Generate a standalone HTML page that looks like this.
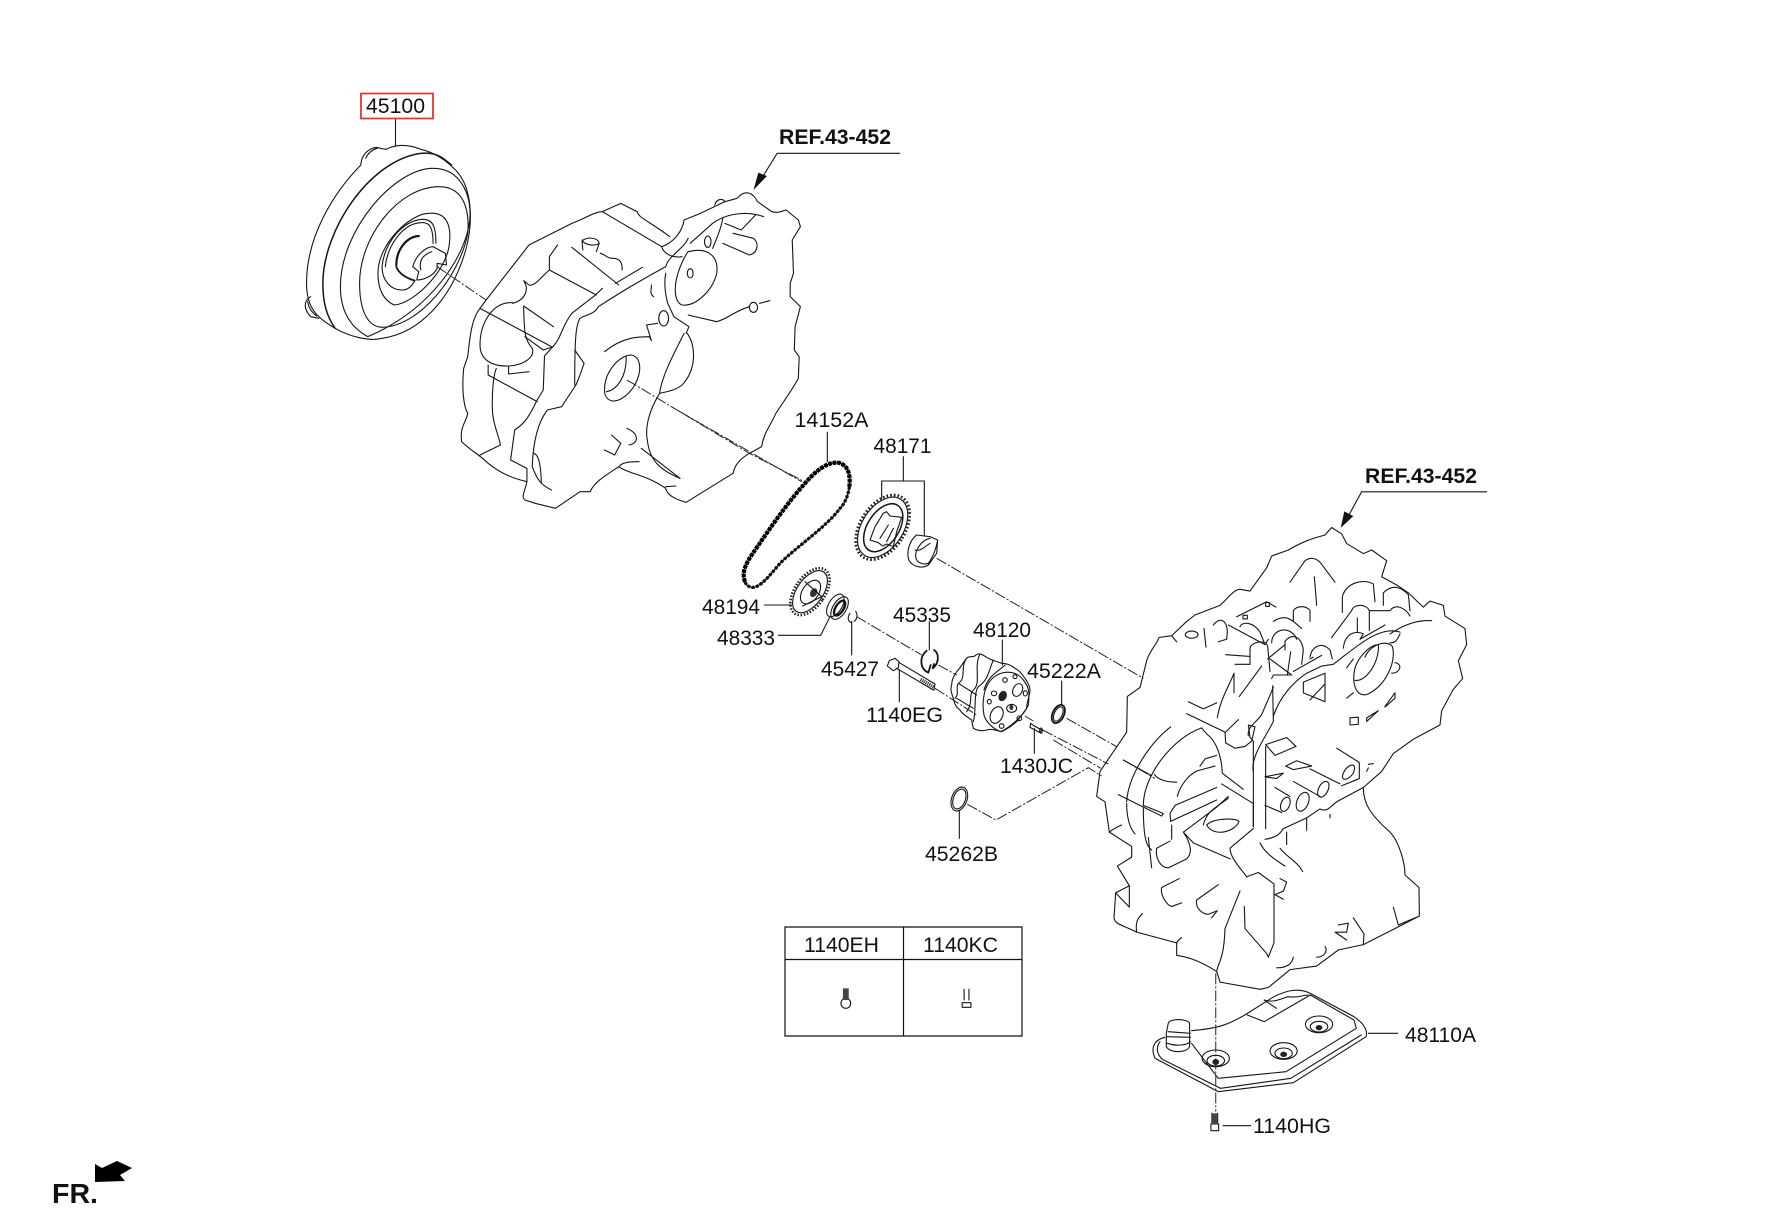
<!DOCTYPE html>
<html><head><meta charset="utf-8"><style>
html,body{margin:0;padding:0;background:#fff;width:1772px;height:1211px;overflow:hidden}
svg{display:block}
path,line,ellipse,polyline,rect{vector-effect:non-scaling-stroke}
.l{fill:none;stroke:#161616;stroke-width:1.1;stroke-linejoin:round;stroke-linecap:round}
.d{fill:none;stroke:#222;stroke-width:1;stroke-dasharray:11 2 2 2}
text{font-family:"Liberation Sans",sans-serif;font-size:21px;fill:#111}
.b{font-weight:bold}
</style></head><body>
<svg width="1772" height="1211" viewBox="0 0 1772 1211" xmlns="http://www.w3.org/2000/svg">
<rect width="1772" height="1211" fill="#fff"/>

<!-- left: converter + housing, crop 1 coordinates -->
<g transform="translate(280,70) scale(0.40816,0.33333)">
<g class="l">
<path d="M198,285C130,370 65,500 65,640C65,720 95,745 135,775C170,800 220,815 250,805C340,790 420,690 455,540C475,450 470,350 430,300C400,262 370,245 345,238C310,220 280,225 260,238"/>
<path d="M105,640C105,480 220,270 345,250C385,245 400,265 420,285M105,640C105,700 115,740 135,775" style="stroke-width:1.5"/>
<path d="M148,650C148,480 280,295 375,295C440,295 470,370 465,450C455,560 370,720 215,800C170,770 148,720 148,650"/>
<path d="M195,640C195,500 290,350 390,350C450,350 465,420 460,490C440,620 340,770 250,772C210,770 195,710 195,640"/>
<path d="M240,610C240,520 320,430 365,430C410,425 420,470 415,520C410,600 330,700 280,705C250,690 240,650 240,610"/>
<path d="M250,590C255,520 300,450 350,448C375,448 382,470 382,520M258,590C262,530 300,460 345,458C370,455 375,480 375,520M250,590C250,630 270,660 300,660C315,660 325,645 330,632"/>
<path d="M285,585C285,540 310,500 340,498" style="stroke-width:2.2"/>
<path d="M285,590C290,610 310,625 330,632" style="stroke-width:1.8"/>
<path d="M325,590C335,550 360,530 375,530L405,550L408,585L385,580L385,595C375,620 350,630 335,630L340,605L325,590M345,600C340,570 350,555 372,545"/>
<path d="M198,285C200,245 230,225 245,235L260,238M210,265C215,250 225,240 238,235M75,680C55,695 60,720 75,740L95,745M68,695C70,715 80,730 90,738"/>

<path d="M790,425C770,425 750,445 715,460L610,525L505,690L490,715C470,745 465,800 460,860L450,895C445,960 450,1010 460,1030C455,1060 440,1070 445,1115C465,1140 490,1155 510,1180C540,1210 570,1225 605,1235C600,1265 590,1280 600,1290L625,1300L675,1315L735,1265L760,1265C770,1235 800,1215 830,1190C850,1210 900,1215 945,1255C950,1280 975,1290 995,1297L1110,1210C1115,1180 1130,1165 1150,1150L1180,1130C1185,1090 1200,1070 1215,1030C1230,1000 1250,970 1270,925L1272,860L1260,840L1262,770L1275,710L1250,680L1250,640L1258,610L1255,510L1275,470L1270,450L1240,420C1225,425 1220,430 1205,425L1170,395C1160,370 1140,355 1120,385L1090,395L1030,430L990,450C985,490 960,520 935,530C940,550 960,565 985,560"/>
<path d="M790,425L835,400L875,425C880,445 900,450 955,500M790,425L935,530"/>
<path d="M1065,405C1070,385 1085,385 1090,395M1000,505C990,535 950,560 945,590"/>
<path d="M1185,440C1150,425 1100,425 1060,460L1005,520"/>
<path d="M740,515C745,500 780,500 782,520L775,545M740,510C745,525 770,530 782,520M740,515L742,540M715,532L830,645M785,550C800,555 800,565 815,565C830,565 840,575 838,600M888,592L822,640"/>
<path d="M680,525L660,560L660,600L775,675M660,600C640,620 625,650 610,645L597,632C612,660 600,690 570,700"/>
<path d="M570,698C520,695 490,760 490,825C490,870 520,890 560,888C600,885 625,860 618,835C600,810 598,790 597,708M597,708L670,770"/>
<path d="M490,715L665,830M600,800L645,840L670,830"/>
<path d="M790,655L770,678L715,730C690,770 690,800 672,825L648,858L645,960L630,990C610,1040 600,1060 575,1080L565,1170L605,1195L605,1235"/>
<path d="M510,885L510,915L630,995M530,895C525,910 520,940 520,1010C520,1060 535,1090 540,1125L490,1155M560,890L560,912L610,905"/>
<path d="M945,590C900,620 830,670 780,710C770,735 745,735 735,745C725,765 722,800 722,945M722,840L745,880L735,915L725,945L690,1010L655,1020C630,1060 620,1120 618,1190C630,1230 640,1245 665,1260M620,1150C640,1150 640,1230 640,1240"/>
<path d="M795,960C795,900 835,855 860,855C885,860 885,900 875,930C860,975 830,995 815,993C800,990 795,975 795,960M848,860C850,920 825,960 800,965"/>
<path d="M990,790C965,850 935,920 930,970C900,1030 895,1080 900,1110C905,1170 930,1200 980,1225M998,790C1020,830 1020,900 985,945C970,960 950,965 930,970"/>
<path d="M795,845C840,800 880,800 905,800L910,812L898,765L925,760M945,610C940,640 945,680 950,700L965,740L1002,770L995,790"/>
<ellipse cx="940" cy="745" rx="12" ry="23"/>
<path d="M1000,545C1050,530 1075,560 1070,610C1060,660 1020,710 985,705C965,695 965,650 975,610C980,590 990,560 1000,545M1085,445C1080,480 1065,520 1060,535"/>
<ellipse cx="1048" cy="515" rx="8" ry="17"/><ellipse cx="1005" cy="610" rx="7" ry="14"/>
<path d="M1090,460L1130,480L1165,435M1085,520L1150,555C1170,550 1175,520 1160,505L1110,490M1000,735L1070,755C1100,745 1110,725 1150,710M1175,700L1200,692"/>
<ellipse cx="1160" cy="712" rx="10" ry="15"/>
<path d="M795,1140L820,1155L835,1120L812,1095M850,1075C880,1090 880,1120 855,1125M885,1135L980,1225M830,1190C840,1175 860,1175 880,1175M945,1250L970,1248M910,645C910,660 905,670 915,680"/>
<line x1="283" y1="147" x2="283" y2="228"/>
<line x1="1220" y1="250" x2="1518" y2="250"/>
<path d="M1218,250L1180,325"/>
</g>
<path d="M1160,360L1172,308L1193,318Z" fill="#111"/>
<path class="d" d="M385,590L505,690"/>
<path class="d" d="M850,930L1150,1150L1285,1235"/>
</g>

<!-- middle parts, crop 2 coordinates -->
<g transform="translate(680,400) scale(0.33333)">
<g class="l">
<path d="M442,97V185M670,170V243M605,243H733M605,243V295M733,243V405M253,615H335M295,706H422L450,650M515,665V765M748,665V750M967,720V795M1145,843V915M658,810V905M1063,985V1060M838,1232V1315"/>
</g>
<!-- chain -->
<path d="M195,545C185,520 195,495 215,465C260,400 320,310 375,250C405,215 440,185 475,188C505,195 512,225 508,260C505,285 495,310 480,325C440,380 350,440 300,490C270,525 240,565 215,562C205,560 198,555 195,545Z" fill="none" stroke="#111" stroke-width="1.3"/>
<path d="M195,545C185,520 195,495 215,465C260,400 320,310 375,250C405,215 440,185 475,188C505,195 512,225 508,260" fill="none" stroke="#000" stroke-width="4.2" stroke-dasharray="3.6 .9"/>
<path d="M508,260C505,285 495,310 480,325C440,380 350,440 300,490C270,525 240,565 215,562C205,560 198,555 195,545" fill="none" stroke="#111" stroke-width="3.2" stroke-dasharray="3 1.4"/>
<!-- sprocket 48171 -->
<g transform="rotate(33 608 382)">
<ellipse cx="608" cy="382" rx="67" ry="107" fill="none" stroke="#222" stroke-width="2.8" stroke-dasharray="1.7 2"/>
<ellipse class="l" cx="608" cy="382" rx="62" ry="100"/>
<ellipse class="l" cx="610" cy="382" rx="47" ry="80" style="stroke-width:1.5"/>
</g>
<path class="l" d="M610,340L620,335L630,348L665,352L650,395L640,440L620,432L608,438L595,428L570,420L585,380ZM625,375L600,415M640,385L620,425"/>
<path class="l" d="M710,405C690,420 680,450 685,475C690,495 720,510 745,495L770,460L773,420L750,410L710,405M750,415C725,420 705,450 707,470C710,490 730,495 745,490C760,470 770,440 773,420M705,450C720,455 735,440 750,430"/>
<!-- sprocket 48194 -->
<g transform="rotate(35 390 575)">
<ellipse cx="390" cy="575" rx="45" ry="80" fill="none" stroke="#222" stroke-width="2.6" stroke-dasharray="1.5 1.7"/>
<ellipse class="l" cx="390" cy="575" rx="39" ry="72"/>
<ellipse class="l" cx="392" cy="575" rx="24" ry="40"/>
</g>
<ellipse cx="401" cy="578" rx="10" ry="14" transform="rotate(30 401 578)" fill="#333"/>
<path class="l" d="M375,545L425,590L368,618"/>
<!-- bearing -->
<g transform="rotate(32 472 620)">
<ellipse class="l" cx="465" cy="620" rx="20" ry="38"/>
<ellipse class="l" cx="480" cy="620" rx="20" ry="38"/>
<ellipse cx="480" cy="620" rx="12" ry="25" fill="none" stroke="#111" stroke-width="2.4"/>
</g>
<path class="l" d="M527,634C535,645 530,660 522,664M510,640C500,655 505,665 515,668"/>
<path class="l" style="stroke-width:1.8" d="M762,750C778,760 778,790 758,805L762,792M740,752C718,770 718,805 745,818L752,795"/>
<!-- bolt -->
<path class="l" d="M628,782L645,775L657,785L655,803L640,812L622,798ZM658,788L765,852L762,870M650,805L760,870"/>
<path d="M722,838L762,862" stroke="#222" stroke-width="3.6" stroke-dasharray="1 1" fill="none"/>
<!-- pump -->
<g class="l">
<path d="M815,855C815,835 825,825 830,815C845,800 850,785 860,775C868,765 880,775 888,765C900,755 915,770 925,775C945,785 955,785 965,790C985,790 1000,800 1005,805C1025,815 1030,830 1035,835C1045,850 1050,860 1050,870C1050,885 1040,905 1040,925C1030,940 1020,950 1015,960C1000,975 985,985 965,995C950,992 935,985 920,990C905,995 890,990 880,985L875,960C860,950 845,940 840,930C825,920 822,905 820,895C815,880 810,870 815,855Z"/>
<path d="M925,850C950,810 1005,805 1030,840C1045,860 1050,870 1045,915C1030,950 985,985 962,995C935,985 915,960 912,945C905,910 912,870 925,850"/>
<path d="M860,775C840,800 860,835 835,850C825,865 840,880 825,895M900,762C880,800 905,850 880,870C865,885 880,910 860,935M940,780C925,815 925,840 895,860C880,880 890,925 880,965M975,795C955,815 925,825 912,870M835,850L890,885M830,895L880,925"/>
<ellipse cx="950" cy="945" rx="18" ry="26" transform="rotate(25 950 945)"/>
<ellipse cx="1013" cy="870" rx="14" ry="20" transform="rotate(25 1013 870)"/>
<ellipse cx="995" cy="925" rx="15" ry="12"/>
<ellipse cx="942" cy="880" rx="8" ry="7"/><ellipse cx="928" cy="905" rx="6" ry="7"/><ellipse cx="1036" cy="880" rx="6" ry="8"/>
<ellipse cx="1018" cy="955" rx="7" ry="7"/><ellipse cx="965" cy="978" rx="7" ry="7"/><ellipse cx="975" cy="840" rx="7" ry="7"/><ellipse cx="1005" cy="830" rx="6" ry="6"/>
</g>
<ellipse cx="968" cy="888" rx="12" ry="16" transform="rotate(25 968 888)" fill="#222"/>
<ellipse cx="994" cy="922" rx="6" ry="8" fill="#333"/>
<!-- rings -->
<g transform="rotate(25 1135 942)"><ellipse cx="1135" cy="942" rx="17" ry="29" fill="none" stroke="#111" stroke-width="1.8"/><ellipse class="l" cx="1135" cy="942" rx="12" ry="23"/></g>
<g transform="rotate(20 838 1197)"><ellipse class="l" cx="838" cy="1197" rx="23" ry="37"/><ellipse class="l" cx="838" cy="1197" rx="18" ry="31"/></g>
<path class="l" d="M1052,970L1058,975L1085,990L1080,998L1050,982Z"/>
<ellipse class="l" cx="1083" cy="992" rx="4" ry="8"/>
<g class="d">
<path d="M770,475L1390,835"/>
<path d="M530,650L725,765M775,795L830,825"/>
<path d="M1160,955L1310,1040"/>
<path d="M765,865L890,945"/>
<path d="M1035,948L1060,963M1088,990L1285,1092"/>
<path d="M1120,1020L1262,1105"/>
<path d="M862,1213L948,1260L1225,1103L1265,1128"/>
</g>
<path class="d" d="M0,35L365,245"/>
<path class="d" d="M1330,1080L1425,1135"/>
</g>

<!-- right housing, crop 3 coordinates -->
<g transform="translate(1080,450) scale(0.33333,0.35714)">
<g class="l">
<path d="M410,1460C350,1425 320,1420 290,1415L290,1380L170,1350C130,1330 105,1330 102,1310L107,1240L148,1220L112,1165L155,1140L155,1110L88,1070L75,985L50,970L60,900L140,790L142,690L180,665L200,590C210,560 230,545 237,525L275,520L320,480L345,462L420,435C440,420 460,390 480,390L510,395L560,330L575,297L625,280C680,250 710,245 735,238L755,217L785,235L800,262L850,290L875,280L920,310L905,355L950,378L985,400L1030,440L1050,423L1090,435L1095,465L1155,500L1160,545L1135,590L1148,640L1120,670L1085,730L1080,770L1000,810L940,850L905,900L850,945C850,990 870,1020 930,1070C960,1100 975,1160 975,1190L1017,1225L1018,1305L955,1330L940,1280M1018,1305L850,1385L775,1400L710,1445L630,1455L565,1505L540,1510L420,1490L410,1460C412,1440 432,1430 435,1340L480,1235"/>
<path d="M107,1240L148,1280V1220M170,1350C165,1320 175,1310 187,1298M820,1310L852,1355L850,1385M775,1330L805,1325L800,1350L765,1350L800,1372M735,1390C745,1405 730,1420 710,1420M640,1420C635,1445 610,1450 590,1450M290,1380C295,1370 300,1370 305,1365"/>
<path d="M493,1278L495,1340L560,1410L565,1420L582,1380V1215L535,1183L500,1195C480,1170 450,1140 450,1115L520,1060M540,1100C555,1130 590,1150 615,1165M600,1115C620,1140 650,1150 668,1180M600,1200L620,1210L610,1235L585,1245L610,1258M620,1070V1105M680,1030V1065M750,1020V1030"/>
<path d="M245,1225L298,1200M245,1225C240,1245 260,1275 275,1278L305,1268M415,1217L350,1260C345,1285 370,1300 385,1300L412,1290L395,1310"/>
<path d="M230,1115L270,1095M275,1050V1090M310,1070L340,1100L450,1145M230,1115C225,1140 240,1170 265,1170L320,1145C335,1130 335,1115 320,1085L310,1070L410,1000L445,970"/>
<path d="M205,1085L215,1170M190,1000C190,1090 200,1110 215,1120M140,990C140,1030 150,1060 165,1075M125,1050C100,1060 95,1065 88,1070M130,868L215,912M115,965L245,1025L250,1018L235,1012L190,995M140,985C145,910 210,820 272,775M190,995C190,910 280,805 365,778L380,795C410,815 425,860 427,905L490,950M320,738L435,790L437,820L465,835L495,830L515,815L525,775L505,770L510,805L520,815L520,1055M437,790L475,755M325,705L370,725L410,708M412,750C420,700 445,665 462,625M462,625V680M478,690L545,605M465,600L510,600"/>
<path d="M223,908C235,925 265,930 290,930M292,970C300,940 330,900 365,895L405,885M360,885L375,865L410,855M285,995L410,945M272,1040L410,980M272,1040L270,1018L285,995M370,1050C380,1010 410,1000 445,975M425,935L520,990L520,1055M380,1050C400,1030 470,1030 477,1040C465,1070 400,1085 380,1050Z"/>
<ellipse cx="335" cy="517" rx="19" ry="10"/>
<path d="M275,520L290,537M372,500L378,552M400,490C415,470 440,470 442,510L440,530L415,537M445,490L555,545L565,530M480,495C485,480 520,480 540,510L553,540M580,480C620,455 640,480 665,500M470,467L560,425L588,440M630,370L675,310C690,300 710,300 725,320L765,370M703,355L710,435M640,480V450C650,435 680,435 690,450V480M787,455V410C800,370 850,360 880,375L885,425M910,435V400C940,370 970,390 985,405L990,450M868,450H930C945,430 975,440 990,465M755,525L815,450C820,430 860,430 868,450V505M832,470V510M915,490L840,530L850,515C830,505 795,510 790,555M690,580C695,550 725,535 750,560L757,585M575,540C575,505 620,490 645,520L650,530"/>
<rect x="557" y="427" width="11" height="11" fill="none"/><rect x="489" y="463" width="13" height="10" fill="none"/>
<path d="M437,573L510,578M510,600V555C515,535 560,530 563,550L570,620M563,585L615,545M570,585L635,630M615,560V535C640,510 665,525 670,560L665,600M632,565L622,630M640,620L725,575M690,585L700,580M575,640L580,630L630,630"/>
<path d="M960,510C900,490 830,550 760,600L725,605L680,625C640,650 600,690 580,745M1055,478C1010,475 970,490 930,515M520,900C510,860 560,800 580,760L578,660M505,800C500,770 540,760 550,730L580,665M557,830V1060M555,1090C590,1085 600,1075 610,1060L680,1030L720,1005C740,1015 750,1000 770,985L850,945"/>
<path d="M855,580C870,545 920,530 937,550C950,590 920,660 860,685C825,690 815,650 825,610C835,580 870,545 895,545C900,590 860,650 825,645M960,515C950,535 945,540 930,540M945,595C970,600 960,625 935,625M800,695L820,680M800,610L820,585"/>
<path d="M670,650L735,625V705L670,680ZM690,700L735,655"/>
<path d="M810,750L835,748L835,768L810,770ZM860,750L895,730L860,760ZM915,718L945,680L945,695L915,720Z"/>
<path d="M557,825L620,805L648,830L585,855ZM770,835L838,875V920L785,940M790,905C800,880 835,870 820,905C800,930 780,925 790,905ZM865,880L880,878M865,890L860,900"/>
<path d="M617,885L650,870L695,885L640,895ZM555,915L610,905L590,920ZM640,928L720,970M690,893L780,935"/>
<ellipse cx="730" cy="950" rx="14" ry="24" transform="rotate(30 730 950)"/>
<ellipse cx="668" cy="985" rx="17" ry="28" transform="rotate(25 668 985)"/>
<ellipse cx="616" cy="992" rx="13" ry="21" transform="rotate(25 616 992)"/>
<path d="M585,945L630,970M555,995L605,1015"/>
<line x1="845" y1="117" x2="1220" y2="117"/>
<path d="M845,117L805,185"/>
</g>
<path d="M782,218L793,172L820,185Z" fill="#111"/>
</g>

<!-- pan, crop 4 coordinates -->
<g transform="translate(760,900) scale(0.48485,0.33333)">
<g class="l">
<path d="M835,412C812,420 805,445 815,475L945,575L1100,548L1250,410C1255,385 1240,365 1225,350L1135,280C1110,262 1085,272 1060,290L1000,345C970,370 950,385 890,392"/>
<path d="M825,425C815,445 820,465 830,478L950,565L1095,535L1240,405"/>
<path d="M890,430L945,535L1085,515L1230,385L1225,360L1135,285"/>
<path d="M1005,345L1040,365L1135,285M1040,300C1060,310 1075,295 1090,290C1110,295 1120,285 1130,285M1040,300L1065,325"/>
<path d="M842,370C845,355 880,355 886,370V440C880,460 845,460 838,440V400ZM842,395L888,400M840,410L888,412M840,430C860,440 880,435 888,425"/>
<ellipse cx="940" cy="475" rx="28" ry="25"/><ellipse cx="1080" cy="453" rx="28" ry="25"/><ellipse cx="1153" cy="373" rx="28" ry="25"/>
<ellipse cx="940" cy="482" rx="18" ry="16"/><ellipse cx="1080" cy="460" rx="18" ry="16"/><ellipse cx="1153" cy="380" rx="18" ry="16"/>
<line x1="1255" y1="400" x2="1315" y2="400"/>
<line x1="955" y1="677" x2="1012" y2="677"/>
<path d="M932,640V672M944,640V672M930,672H946V692H930Z"/>
<ellipse cx="177" cy="310" rx="10" ry="15"/>
<path d="M421,268V300M431,268V300M417,308H435V322H417Z"/>
</g>
<ellipse cx="940" cy="486" rx="7" ry="9" fill="#222"/><ellipse cx="1080" cy="463" rx="7" ry="8" fill="#222"/><ellipse cx="1153" cy="383" rx="7" ry="8" fill="#222"/>
<path d="M932,640H944V672H932Z" fill="#444"/>
<path d="M171,265H183V300H171Z" fill="#444"/>
<path class="d" d="M940,220V635"/>
</g>

<!-- table -->
<g fill="none" stroke="#111" stroke-width="1.2">
<rect x="785" y="927" width="237" height="109"/>
<line x1="785" y1="959.5" x2="1022" y2="959.5"/>
<line x1="903.5" y1="927" x2="903.5" y2="1036"/>
</g>
<rect x="361" y="93.5" width="72" height="25" fill="none" stroke="#e53535" stroke-width="1.8"/>

<!-- FR arrow -->
<path d="M95,1164L102,1168L117,1161L132,1168L120,1175L125,1181L95,1182Z" fill="#000"/>

<!-- labels -->
<text x="366" y="113" textLength="59" lengthAdjust="spacingAndGlyphs">45100</text>
<text class="b" x="779" y="144" textLength="112" lengthAdjust="spacingAndGlyphs">REF.43-452</text>
<text class="b" x="1365" y="483" textLength="112" lengthAdjust="spacingAndGlyphs">REF.43-452</text>
<text x="794.5" y="427" textLength="74" lengthAdjust="spacingAndGlyphs">14152A</text>
<text x="873.5" y="453" textLength="58" lengthAdjust="spacingAndGlyphs">48171</text>
<text x="702" y="614" textLength="58" lengthAdjust="spacingAndGlyphs">48194</text>
<text x="717" y="645" textLength="58" lengthAdjust="spacingAndGlyphs">48333</text>
<text x="821" y="676" textLength="58" lengthAdjust="spacingAndGlyphs">45427</text>
<text x="893" y="622" textLength="58" lengthAdjust="spacingAndGlyphs">45335</text>
<text x="973" y="637" textLength="58" lengthAdjust="spacingAndGlyphs">48120</text>
<text x="1027" y="678" textLength="74" lengthAdjust="spacingAndGlyphs">45222A</text>
<text x="866" y="722" textLength="77" lengthAdjust="spacingAndGlyphs">1140EG</text>
<text x="1000" y="773" textLength="73" lengthAdjust="spacingAndGlyphs">1430JC</text>
<text x="925" y="861" textLength="73" lengthAdjust="spacingAndGlyphs">45262B</text>
<text x="804" y="952" textLength="75" lengthAdjust="spacingAndGlyphs">1140EH</text>
<text x="923" y="952" textLength="75" lengthAdjust="spacingAndGlyphs">1140KC</text>
<text x="1405" y="1042" textLength="71" lengthAdjust="spacingAndGlyphs">48110A</text>
<text x="1253" y="1133" textLength="78" lengthAdjust="spacingAndGlyphs">1140HG</text>
<text class="b" x="52" y="1203" style="font-size:28px" textLength="46" lengthAdjust="spacingAndGlyphs">FR.</text>
</svg>
</body></html>
